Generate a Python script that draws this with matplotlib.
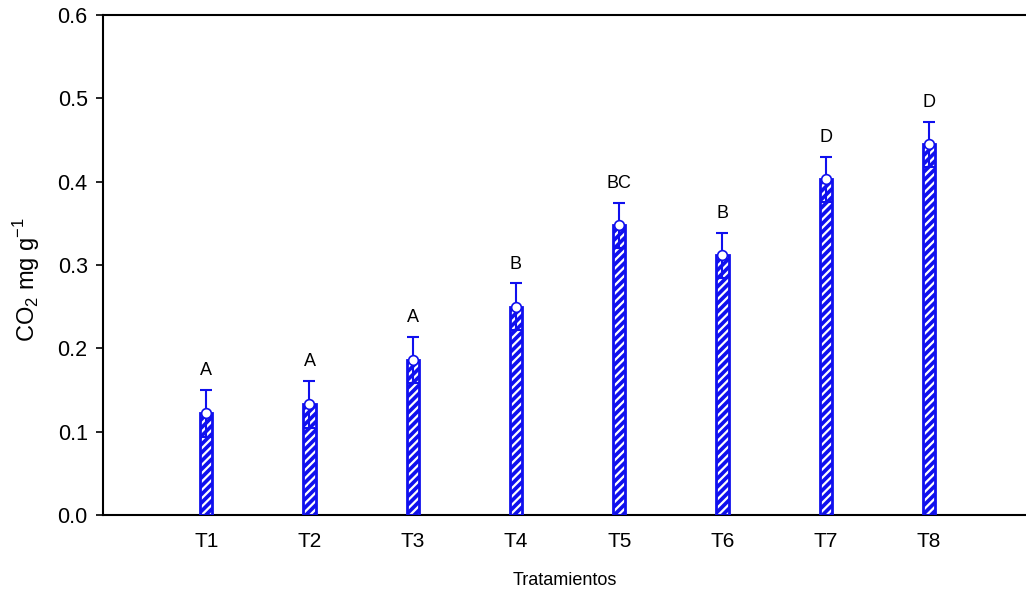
import matplotlib
matplotlib.use("Agg")
import matplotlib.pyplot as plt
import numpy as np

plt.rcParams['font.family'] = ['Liberation Sans', 'DejaVu Sans']
plt.rcParams['mathtext.fontset'] = 'custom'
plt.rcParams['mathtext.rm'] = 'Liberation Sans'
plt.rcParams['hatch.linewidth'] = 1.6

# CO2 per treatment: means, error and letter groups
treatments = ['T1', 'T2', 'T3', 'T4', 'T5', 'T6', 'T7', 'T8']
means = [0.122, 0.133, 0.186, 0.250, 0.348, 0.312, 0.403, 0.445]
errors = [0.028, 0.028, 0.028, 0.028, 0.027, 0.027, 0.027, 0.027]
groups = ['A', 'A', 'A', 'B', 'BC', 'B', 'D', 'D']

blue = '#1010ee'
x = np.arange(len(treatments))

fig = plt.figure(figsize=(10.26, 5.92), dpi=100)
ax = fig.add_axes([0.1004, 0.130, 0.8996, 0.8447])

# hatched fill, then outline on top
ax.bar(x, means, width=0.12, color=blue, edgecolor='white', hatch='////',
       linewidth=0, zorder=2)
ax.bar(x, means, width=0.12, facecolor='none', edgecolor=blue,
       linewidth=2, zorder=3)
ax.errorbar(x, means, yerr=errors, fmt='none', ecolor=blue, elinewidth=1.5,
            capsize=4, capthick=1.5, zorder=4)
ax.plot(x, means, 'o', ms=7, mfc='white', mec=blue, mew=1.2, zorder=5)

for xi, m, e, g in zip(x, means, errors, groups):
    ax.text(xi, m + e + 0.023, g, ha='center', va='center', fontsize=13)

ax.set_xlim(-1, 7.94)
ax.set_ylim(0, 0.6)
ax.set_yticks(np.arange(0, 0.61, 0.1))
ax.set_yticklabels([f'{v:.1f}' for v in np.arange(0, 0.61, 0.1)])
ax.set_xticks(x)
ax.set_xticklabels(treatments)
ax.tick_params(axis='x', length=0, pad=12, labelsize=15)
ax.tick_params(axis='y', length=5, width=1.2, direction='out', pad=6, labelsize=15.5)

for side in ['left', 'bottom', 'top']:
    ax.spines[side].set_linewidth(1.5)
ax.spines['right'].set_visible(False)

ax.set_xlabel('Tratamientos', fontsize=13, labelpad=15)
ax.set_ylabel('CO$_2$ mg g$^{-1}$', fontsize=17)
ax.yaxis.set_label_coords(-0.066, 0.47)

fig.savefig('out.png', dpi=100)
